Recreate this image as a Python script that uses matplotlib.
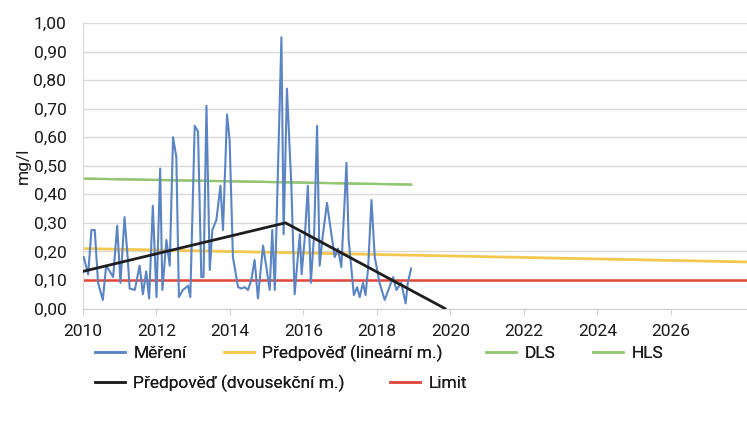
import matplotlib
matplotlib.use("Agg")
import matplotlib.pyplot as plt
from matplotlib.lines import Line2D
from matplotlib.ticker import FuncFormatter

plt.rcParams['font.family'] = ['Roboto', 'DejaVu Sans']

# Measured data (decimal year, mg/l)
meas_years = [2010.02, 2010.14, 2010.23, 2010.32, 2010.41, 2010.54, 2010.63, 2010.73, 2010.82, 2010.93,
              2011.02, 2011.13, 2011.22, 2011.27, 2011.41, 2011.54, 2011.63, 2011.72, 2011.80, 2011.90,
              2012.00, 2012.10, 2012.16, 2012.27, 2012.36, 2012.45, 2012.54, 2012.61, 2012.72, 2012.86,
              2012.92, 2013.04, 2013.13, 2013.22, 2013.28, 2013.36, 2013.45, 2013.52, 2013.63, 2013.74,
              2013.81, 2013.92, 2013.99, 2014.08, 2014.22, 2014.31, 2014.40, 2014.49, 2014.58, 2014.67,
              2014.76, 2014.90, 2014.99, 2015.08, 2015.15, 2015.22, 2015.40, 2015.46, 2015.55, 2015.67,
              2015.76, 2015.90, 2015.95, 2016.03, 2016.12, 2016.20, 2016.29, 2016.37, 2016.44, 2016.53,
              2016.64, 2016.76, 2016.85, 2016.94, 2017.03, 2017.17, 2017.23, 2017.30, 2017.37, 2017.46,
              2017.53, 2017.62, 2017.69, 2017.76, 2017.85, 2017.94, 2018.07, 2018.21, 2018.34, 2018.44,
              2018.53, 2018.66, 2018.78, 2018.84, 2018.93]
meas_values = [0.18, 0.12, 0.275, 0.275, 0.09, 0.03, 0.15, 0.13, 0.11, 0.29,
               0.09, 0.32, 0.17, 0.07, 0.065, 0.15, 0.05, 0.13, 0.035, 0.36,
               0.04, 0.49, 0.065, 0.24, 0.15, 0.60, 0.53, 0.04, 0.065, 0.08,
               0.04, 0.64, 0.62, 0.11, 0.11, 0.71, 0.135, 0.275, 0.31, 0.43,
               0.275, 0.68, 0.59, 0.18, 0.075, 0.07, 0.075, 0.065, 0.10, 0.17,
               0.035, 0.22, 0.145, 0.065, 0.275, 0.065, 0.95, 0.26, 0.77, 0.43,
               0.05, 0.26, 0.12, 0.24, 0.43, 0.09, 0.26, 0.64, 0.15, 0.26,
               0.37, 0.26, 0.18, 0.21, 0.145, 0.51, 0.24, 0.145, 0.047, 0.075,
               0.04, 0.09, 0.047, 0.145, 0.38, 0.18, 0.09, 0.03, 0.075, 0.11,
               0.065, 0.09, 0.018, 0.09, 0.14]

# Linear forecast
lin_years = [2010.0, 2028.07]
lin_values = [0.21, 0.163]

# Two-segment forecast
seg_years = [2010.0, 2015.51, 2019.85]
seg_values = [0.13, 0.30, 0.0]

# DLS / HLS
dls_years = [2010.0, 2018.93]
dls_values = [0.455, 0.434]
hls_years = [2010.0, 2018.93]
hls_values = [0.455, 0.434]

# Limit
limit_years = [2010.0, 2028.07]
limit_values = [0.10, 0.10]

x_ticks = [2010, 2012, 2014, 2016, 2018, 2020, 2022, 2024, 2026]
y_ticks = [0.0, 0.1, 0.2, 0.3, 0.4, 0.5, 0.6, 0.7, 0.8, 0.9, 1.0]

legend_labels = ['Měření', 'Předpověď (lineární m.)', 'DLS', 'HLS',
                 'Předpověď (dvousekční m.)', 'Limit']

c_blue = '#5b84c4'
c_yellow = '#f4c84e'
c_green = '#93c572'
c_red = '#e0483a'
c_black = '#1e1e1e'
c_text = '#1a1a1a'

fs = 12.5

fig = plt.figure(figsize=(7.47, 4.21), dpi=100)
ax = fig.add_axes([83/747, 1-308.5/421, 1-83/747, (308.5-23)/421])

ax.plot(limit_years, limit_values, color=c_red, lw=1.8, zorder=2)
ax.plot(lin_years, lin_values, color=c_yellow, lw=2.0, zorder=2)
ax.plot(dls_years, dls_values, color=c_green, lw=1.6, zorder=2)
ax.plot(hls_years, hls_values, color=c_green, lw=1.6, zorder=2)
ax.plot(meas_years, meas_values, color=c_blue, lw=1.5, zorder=3)
ax.plot(seg_years, seg_values, color=c_black, lw=2.0, zorder=4)

ax.set_xlim(2010, 2028.07)
ax.set_ylim(0, 1.0)
ax.set_xticks(x_ticks)
ax.set_xticklabels([str(t) for t in x_ticks])
ax.set_yticks(y_ticks)
ax.yaxis.set_major_formatter(FuncFormatter(lambda v, p: f"{v:.2f}".replace('.', ',')))
ax.grid(axis='y', color='#d9d9d9', lw=1.0)
ax.set_axisbelow(True)
for s in ['top', 'right']:
    ax.spines[s].set_visible(False)
ax.spines['left'].set_color('#d9d9d9')
ax.spines['bottom'].set_color('#d0d0d0')
ax.tick_params(axis='y', length=0, labelsize=fs, pad=12, labelcolor=c_text)
ax.tick_params(axis='x', length=4, color='#d0d0d0', labelsize=fs, pad=7, labelcolor=c_text)
ax.set_ylabel('mg/l', fontsize=fs, labelpad=2, color=c_text)

colors = [c_blue, c_yellow, c_green, c_green, c_black, c_red]
# legend item anchor positions (figure pixels): (handle left x, row center y)
slots = [(95, 353), (224, 353), (486, 353), (593, 353), (95, 383), (390, 383)]
for lab, col, (px, py) in zip(legend_labels, colors, slots):
    lg = fig.legend([Line2D([], [], color=col, lw=1.8)], [lab], loc='center left',
                    bbox_to_anchor=(px/747, 1-py/421), frameon=False, fontsize=fs,
                    handlelength=1.75, handletextpad=0.45, borderaxespad=0, borderpad=0,
                    labelcolor=c_text)
    fig.add_artist(lg)

fig.savefig('out.png', dpi=100)
